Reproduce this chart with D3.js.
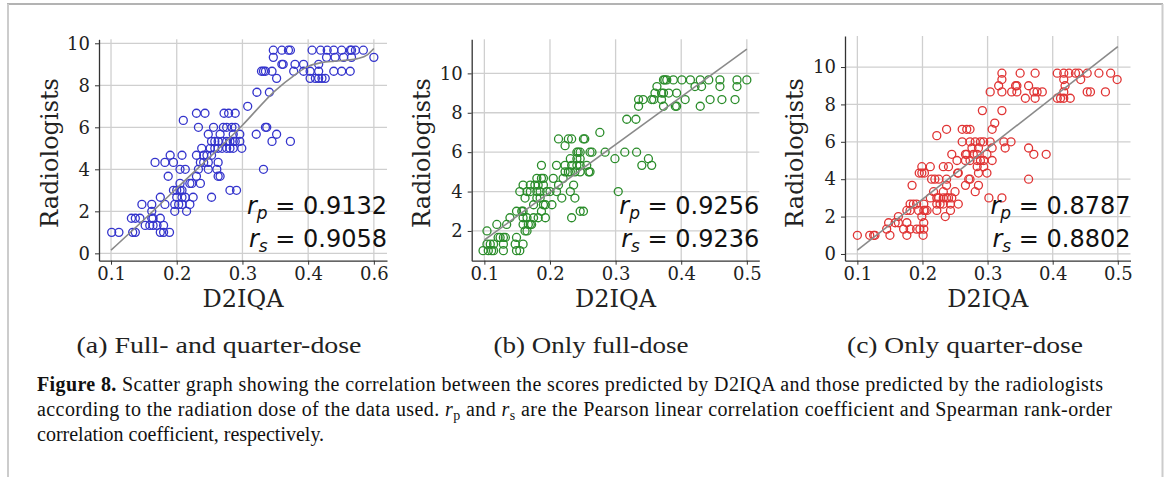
<!DOCTYPE html>
<html>
<head>
<meta charset="utf-8">
<script src="https://cdn.jsdelivr.net/npm/d3@7"></script>
<style>
body { margin: 0; background: #fff; }
svg { display: block; }
</style>
</head>
<body>
<script>
// radiologist score levels (each row of circles sits on one of these)
var radScores = [9.67, 9.33, 9.0, 8.67, 8.33, 7.67, 7.0, 6.67, 6.33, 6.0, 5.67, 5.33, 5.0,
  4.67, 4.33, 4.0, 3.67, 3.33, 3.0, 2.67, 2.33, 2.0, 1.67, 1.33, 1.0];

// D2IQA scores per radiologist level, full- and quarter-dose
var d2iqaAll = [
  [0.347, 0.36, 0.37, 0.373, 0.406, 0.419, 0.429, 0.439, 0.451, 0.464, 0.466, 0.472, 0.484],
  [0.347, 0.428, 0.441, 0.454, 0.466, 0.5],
  [0.36, 0.362, 0.38, 0.393, 0.416],
  [0.329, 0.332, 0.335, 0.345, 0.378, 0.393, 0.403, 0.416, 0.439, 0.451, 0.464],
  [0.352, 0.403, 0.411, 0.416, 0.421, 0.426],
  [0.322, 0.341],
  [0.308],
  [0.23, 0.243, 0.272, 0.279, 0.289],
  [0.21],
  [0.233, 0.256, 0.271, 0.276, 0.284, 0.289, 0.335, 0.337],
  [0.248, 0.266, 0.286, 0.296, 0.321, 0.352],
  [0.253, 0.258, 0.263, 0.269, 0.276, 0.281, 0.286, 0.289, 0.296, 0.345, 0.373],
  [0.238, 0.251, 0.258, 0.263, 0.269, 0.276, 0.281, 0.286, 0.299],
  [0.19, 0.208, 0.23, 0.241, 0.246, 0.253],
  [0.167, 0.182, 0.195, 0.236, 0.241, 0.248, 0.263],
  [0.205, 0.213, 0.233, 0.248, 0.261, 0.332],
  [0.187, 0.23, 0.263, 0.266],
  [0.205, 0.22, 0.223, 0.236],
  [0.195, 0.2, 0.205, 0.208, 0.281, 0.291],
  [0.175, 0.2, 0.208, 0.213, 0.225, 0.253],
  [0.147, 0.162, 0.182, 0.197, 0.203, 0.208, 0.22],
  [0.162, 0.197, 0.215],
  [0.131, 0.137, 0.144, 0.162, 0.164, 0.175],
  [0.152, 0.159, 0.164, 0.17, 0.18],
  [0.101, 0.112, 0.133, 0.137, 0.175, 0.18, 0.189]
];

// only full-dose
var d2iqaFull = [
  [0.373, 0.375, 0.378, 0.388, 0.401, 0.414, 0.429, 0.442, 0.459, 0.485, 0.5],
  [0.363, 0.421, 0.431, 0.459, 0.485],
  [0.36, 0.37, 0.373, 0.381, 0.393],
  [0.335, 0.342, 0.355, 0.358, 0.37, 0.406, 0.444, 0.462, 0.482],
  [0.335, 0.373, 0.391, 0.393, 0.429],
  [0.317, 0.331],
  [0.276],
  [0.213, 0.228, 0.233, 0.251, 0.253],
  [0.223],
  [0.241, 0.243, 0.246, 0.261, 0.264, 0.284, 0.314, 0.332],
  [0.231, 0.241, 0.246, 0.299, 0.35],
  [0.187, 0.21, 0.223, 0.233, 0.241, 0.246, 0.256, 0.34, 0.355],
  [0.223, 0.228, 0.231, 0.238, 0.246, 0.259, 0.261],
  [0.18, 0.187, 0.19, 0.205, 0.22],
  [0.159, 0.17, 0.177, 0.182, 0.19, 0.213, 0.236],
  [0.154, 0.165, 0.17, 0.18, 0.185, 0.195, 0.2, 0.21, 0.231, 0.304],
  [0.162, 0.18, 0.185, 0.218, 0.238],
  [0.175, 0.19, 0.193, 0.203],
  [0.149, 0.157, 0.159, 0.187, 0.246, 0.251],
  [0.139, 0.159, 0.165, 0.175, 0.182, 0.193, 0.233],
  [0.119, 0.134, 0.159, 0.167, 0.17, 0.172],
  [0.104, 0.162, 0.165],
  [0.121, 0.124, 0.129, 0.132, 0.149],
  [0.104, 0.109, 0.114, 0.129, 0.147, 0.159],
  [0.098, 0.106, 0.111, 0.114, 0.129, 0.149, 0.154]
];

// only quarter-dose
var d2iqaQuarter = [
  [0.322, 0.35, 0.373, 0.407, 0.417, 0.425, 0.435, 0.44, 0.453, 0.471, 0.489],
  [0.322, 0.417, 0.443, 0.499],
  [0.317, 0.343, 0.345, 0.363, 0.419],
  [0.304, 0.322, 0.337, 0.345, 0.371, 0.376, 0.384, 0.417, 0.453, 0.458, 0.481],
  [0.358, 0.373, 0.407, 0.412, 0.417, 0.427],
  [0.292, 0.322],
  [0.311],
  [0.237, 0.261, 0.268, 0.273, 0.307],
  [0.222],
  [0.261, 0.273, 0.281, 0.289, 0.294, 0.304, 0.325, 0.336],
  [0.276, 0.286, 0.307, 0.327, 0.363],
  [0.245, 0.266, 0.268, 0.278, 0.284, 0.299, 0.371, 0.39],
  [0.253, 0.266, 0.273, 0.284, 0.289, 0.294, 0.307],
  [0.199, 0.212, 0.232, 0.24, 0.284, 0.294],
  [0.195, 0.199, 0.203, 0.254, 0.255, 0.286, 0.299],
  [0.214, 0.219, 0.225, 0.237, 0.271, 0.273, 0.363],
  [0.184, 0.237, 0.266, 0.286],
  [0.217, 0.232, 0.25, 0.281],
  [0.212, 0.222, 0.225, 0.232, 0.237, 0.24, 0.245, 0.302, 0.322],
  [0.181, 0.186, 0.191, 0.202, 0.222, 0.227, 0.232, 0.243, 0.255],
  [0.176, 0.181, 0.194, 0.202, 0.204, 0.207, 0.222, 0.243],
  [0.163, 0.199, 0.235],
  [0.148, 0.158, 0.163, 0.176, 0.202],
  [0.145, 0.171, 0.181, 0.191, 0.196, 0.202],
  [0.1, 0.119, 0.125, 0.127, 0.15, 0.176, 0.201]
];

// fitted curves (grey)
var fitAll = [[0.1, 0.15], [0.15, 1.6], [0.2, 3.1], [0.3, 6.1], [0.35, 7.75], [0.38, 8.5],
  [0.4, 8.9], [0.42, 9.08], [0.44, 9.15], [0.46, 9.2], [0.475, 9.27], [0.49, 9.45], [0.5, 9.75]];
var fitFull = [[0.1, 1.54], [0.5, 11.23]];
var fitQuarter = [[0.1, 0.21], [0.5, 11.09]];

// tick labels
var xTickValues = [0.1, 0.2, 0.3, 0.4, 0.5];
var xLabelsAll = ["0.1", "0.2", "0.3", "0.4", "0.6"];
var xLabelsOther = ["0.1", "0.2", "0.3", "0.4", "0.5"];
var yTicksAll = [0, 2, 4, 6, 8, 10];
var yTicksFull = [2, 4, 6, 8, 10];
var yTicksQuarter = [0, 2, 4, 6, 8, 10];

var pearson = ["0.9132", "0.9256", "0.8787"];
var spearman = ["0.9058", "0.9236", "0.8802"];
var subCaptions = ["(a) Full- and quarter-dose", "(b) Only full-dose", "(c) Only quarter-dose"];

// panel layout
var panels = [
  {values: d2iqaAll, fit: fitAll, curve: d3.curveMonotoneX, xLabels: xLabelsAll, yTicks: yTicksAll,
   color: "#3434cc", left: 99, right: 387, top: 39.3, bottom: 260.7,
   xDomain: [0.0817, 0.52], yDomain: [-0.35, 10.19], ylabelX: 50, subX: 219, subW: 285},
  {values: d2iqaFull, fit: fitFull, curve: d3.curveLinear, xLabels: xLabelsOther, yTicks: yTicksFull,
   color: "#2a8c2a", left: 471.7, right: 759.3, top: 39.3, bottom: 260.7,
   xDomain: [0.0807, 0.519], yDomain: [0.49, 11.73], ylabelX: 422, subX: 591, subW: 195},
  {values: d2iqaQuarter, fit: fitQuarter, curve: d3.curveLinear, xLabels: xLabelsOther, yTicks: yTicksQuarter,
   color: "#e03434", left: 845, right: 1130.5, top: 36, bottom: 260.7,
   xDomain: [0.081, 0.5195], yDomain: [-0.36, 11.66], ylabelX: 795, subX: 965, subW: 236}
];

var svg = d3.select("body").append("svg")
  .attr("width", 1170)
  .attr("height", 477);

// page frame
svg.append("line").attr("x1", 7).attr("x2", 1163).attr("y1", 4).attr("y2", 4)
  .attr("stroke", "#9a9a9a").attr("stroke-width", 1.5);
svg.append("line").attr("x1", 8).attr("x2", 8).attr("y1", 4).attr("y2", 477)
  .attr("stroke", "#cccccc").attr("stroke-width", 2);
svg.append("line").attr("x1", 1162.5).attr("x2", 1162.5).attr("y1", 4).attr("y2", 477)
  .attr("stroke", "#cccccc").attr("stroke-width", 2);

panels.forEach(function(p, k) {
  var x = d3.scaleLinear().domain(p.xDomain).range([p.left, p.right]);
  var y = d3.scaleLinear().domain(p.yDomain).range([p.bottom, p.top]);
  var g = svg.append("g");

  // grid
  g.selectAll(".vgrid").data(xTickValues).enter().append("line")
    .attr("x1", function(d) { return x(d); })
    .attr("x2", function(d) { return x(d); })
    .attr("y1", p.top).attr("y2", p.bottom)
    .attr("stroke", "#cfcfcf").attr("stroke-width", 1.3);
  g.selectAll(".hgrid").data(p.yTicks).enter().append("line")
    .attr("y1", function(d) { return y(d); })
    .attr("y2", function(d) { return y(d); })
    .attr("x1", p.left).attr("x2", p.right)
    .attr("stroke", "#cfcfcf").attr("stroke-width", 1.3);

  // axes
  var xa = g.append("g")
    .attr("transform", "translate(0," + p.bottom + ")")
    .call(d3.axisBottom(x).tickValues(xTickValues)
      .tickFormat(function(d, i) { return p.xLabels[i]; })
      .tickSize(4).tickSizeOuter(0).tickPadding(3));
  var ya = g.append("g")
    .attr("transform", "translate(" + p.left + ",0)")
    .call(d3.axisLeft(y).tickValues(p.yTicks).tickFormat(d3.format("d"))
      .tickSize(4).tickSizeOuter(0).tickPadding(5));
  [xa, ya].forEach(function(a) {
    a.select(".domain").attr("stroke", "#333").attr("stroke-width", 1.3);
    a.selectAll(".tick line").attr("stroke", "#333");
    a.selectAll("text").attr("font-family", "DejaVu Serif").attr("font-size", 18).attr("fill", "#222");
  });

  // points
  var pts = [];
  p.values.forEach(function(row, i) {
    row.forEach(function(v) { pts.push({x: v, y: radScores[i]}); });
  });
  g.selectAll("circle").data(pts).enter().append("circle")
    .attr("cx", function(d) { return x(d.x); })
    .attr("cy", function(d) { return y(d.y); })
    .attr("r", 4)
    .attr("fill", "none")
    .attr("stroke", p.color)
    .attr("stroke-width", 1.3);

  // fitted line
  var line = d3.line()
    .x(function(d) { return x(d[0]); })
    .y(function(d) { return y(d[1]); })
    .curve(p.curve);
  g.append("path").datum(p.fit)
    .attr("d", line)
    .attr("fill", "none")
    .attr("stroke", "#8a8a8a")
    .attr("stroke-width", 1.6);

  // axis titles
  g.append("text")
    .attr("transform", "translate(" + p.ylabelX + ",153) rotate(-90)")
    .attr("text-anchor", "middle").attr("dominant-baseline", "central")
    .attr("font-family", "DejaVu Serif").attr("font-size", 24).attr("fill", "#222")
    .text("Radiologists");
  g.append("text")
    .attr("x", (p.left + p.right) / 2).attr("y", 307)
    .attr("text-anchor", "middle")
    .attr("font-family", "DejaVu Serif").attr("font-size", 24).attr("fill", "#222")
    .text("D2IQA");

  // correlation coefficients
  [["p", pearson[k], 214], ["s", spearman[k], 247]].forEach(function(c) {
    var t = g.append("text")
      .attr("x", p.right).attr("y", c[2])
      .attr("text-anchor", "end")
      .attr("font-family", "DejaVu Sans").attr("font-size", 24).attr("fill", "#111");
    t.append("tspan").attr("font-style", "italic").text("r");
    t.append("tspan").attr("font-style", "italic").attr("font-size", 17).attr("dy", 5).text(c[0]);
    t.append("tspan").attr("dy", -5).text(" = " + c[1]);
  });

  // sub caption
  svg.append("text")
    .attr("x", p.subX - p.subW / 2).attr("y", 353)
    .attr("textLength", p.subW).attr("lengthAdjust", "spacingAndGlyphs")
    .attr("font-family", "Liberation Serif").attr("font-size", 24).attr("fill", "#222")
    .text(subCaptions[k]);
});

// figure caption
var cap = svg.append("g")
  .attr("font-family", "Liberation Serif").attr("font-size", 20).attr("fill", "#111");
var l1 = cap.append("text").attr("x", 37).attr("y", 391).attr("textLength", 1066);
l1.append("tspan").attr("font-weight", "bold").text("Figure 8.");
l1.append("tspan").text(" Scatter graph showing the correlation between the scores predicted by D2IQA and those predicted by the radiologists");
var l2 = cap.append("text").attr("x", 37).attr("y", 416).attr("textLength", 1075);
l2.append("tspan").text("according to the radiation dose of the data used. ");
l2.append("tspan").attr("font-style", "italic").text("r");
l2.append("tspan").attr("font-size", 14).attr("dy", 4).text("p");
l2.append("tspan").attr("dy", -4).text(" and ");
l2.append("tspan").attr("font-style", "italic").text("r");
l2.append("tspan").attr("font-size", 14).attr("dy", 4).text("s");
l2.append("tspan").attr("dy", -4).text(" are the Pearson linear correlation coefficient and Spearman rank-order");
cap.append("text").attr("x", 37).attr("y", 441)
  .text("correlation coefficient, respectively.");
</script>
</body>
</html>
